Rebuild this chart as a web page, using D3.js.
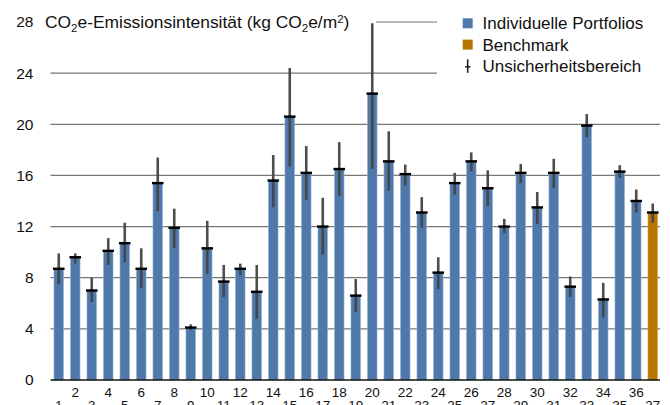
<!DOCTYPE html>
<html>
<head>
<meta charset="utf-8">
<script src="https://cdn.jsdelivr.net/npm/d3@7"></script>
<style>
  html, body { margin: 0; padding: 0; background: #fff; }
  svg { display: block; font-family: "Liberation Sans", Arial, Helvetica, sans-serif; }
</style>
</head>
<body>
<svg id="chart" width="670" height="405"></svg>
<script>
// ---- data ----
const categories = d3.range(1, 38).map(String);
const values = [8.7, 9.6, 7.0, 10.1, 10.7, 8.7, 15.4, 11.9, 4.1, 10.3, 7.7, 8.7, 6.9, 15.6, 20.6, 16.2, 12.0, 16.5, 6.6, 22.4, 17.1, 16.1, 13.1, 8.4, 15.4, 17.1, 15.0, 12.0, 16.2, 13.5, 16.2, 7.3, 19.9, 6.3, 16.3, 14.0, 13.1];
const lows = [7.5, 9.1, 6.1, 9.0, 9.2, 7.2, 13.2, 10.3, 3.9, 8.3, 6.5, 8.2, 4.8, 13.5, 16.7, 14.1, 9.8, 14.4, 5.3, 16.5, 14.8, 15.2, 11.9, 7.1, 14.5, 16.3, 13.6, 11.5, 15.4, 12.2, 15.0, 6.5, 19.0, 4.9, 15.8, 13.1, 12.3];
const highs = [9.9, 9.9, 8.0, 11.1, 12.3, 10.3, 17.4, 13.4, 4.35, 12.45, 9.0, 9.1, 9.0, 17.6, 24.4, 18.3, 14.25, 18.6, 7.9, 27.9, 19.45, 16.85, 14.3, 9.6, 16.2, 17.8, 16.4, 12.6, 16.9, 14.7, 17.3, 8.1, 20.8, 7.6, 16.8, 14.9, 13.8];
const benchmarkCategory = "37";
const yTicks = [0, 4, 8, 12, 16, 20, 24, 28];
const legendLabels = ["Individuelle Portfolios", "Benchmark", "Unsicherheitsbereich"];

const colors = { portfolio: "#4e79aa", benchmark: "#b57700", error: "#444444", cap: "#000000", grid: "#777777" };

const rows = categories.map((c, i) => ({ cat: c, v: values[i], lo: lows[i], hi: highs[i] }));

const svg = d3.select("#chart");
const plotLeft = 50.5, plotRight = 661, plotTop = 22, plotBottom = 380;

const x = d3.scaleBand().domain(categories).range([plotLeft, plotRight]).paddingInner(0.42).paddingOuter(0.21);
const y = d3.scaleLinear().domain([0, 28]).range([plotBottom, plotTop]);

// gridlines
const grid = svg.append("g");
grid.selectAll("line").data(yTicks.filter(t => t > 0)).join("line")
  .attr("x1", plotLeft).attr("x2", 660)
  .attr("y1", d => y(d)).attr("y2", d => y(d))
  .attr("stroke", colors.grid).attr("stroke-width", 1.2);

// y tick labels
const yAxis = d3.axisLeft(y).tickValues(yTicks).tickSize(0).tickPadding(0);
const ya = svg.append("g").attr("transform", "translate(33.5,0)").call(yAxis);
ya.select(".domain").remove();
ya.selectAll("text").attr("font-size", 15.5).attr("fill", "#111").attr("font-family", "Liberation Sans, Arial, sans-serif");

// title with white backing
const titleG = svg.append("g");
const titleBg = titleG.append("rect").attr("fill", "#fff");
const title = titleG.append("text").attr("x", 45).attr("y", y(28)).attr("dy", "0.36em")
  .attr("font-size", 17.4).attr("fill", "#111");
title.append("tspan").text("CO");
title.append("tspan").text("2").attr("font-size", 11.5).attr("dy", "0.3em");
title.append("tspan").text("e-Emissionsintensität (kg CO").attr("dy", "-0.2em");
title.append("tspan").text("2").attr("font-size", 11.5).attr("dy", "0.3em");
title.append("tspan").text("e/m").attr("dy", "-0.2em");
title.append("tspan").text("2").attr("font-size", 11.5).attr("dy", "-0.45em");
title.append("tspan").text(")").attr("dy", "0.3em");
const tb = title.node().getBBox();
titleBg.attr("x", tb.x - 4).attr("y", tb.y - 2).attr("width", Math.max(376, tb.x + tb.width + 4) - tb.x + 4).attr("height", tb.height + 6);

// legend with white backing
const legend = svg.append("g");
legend.append("rect").attr("x", 437).attr("y", 8).attr("width", 233).attr("height", 72).attr("fill", "#fff");
const legY = [23.3, 44.6, 66.3];
legend.append("rect").attr("x", 462.7).attr("y", legY[0] - 5).attr("width", 10).attr("height", 10).attr("fill", colors.portfolio);
legend.append("rect").attr("x", 462.7).attr("y", legY[1] - 5).attr("width", 10).attr("height", 10).attr("fill", colors.benchmark);
legend.append("line").attr("x1", 467.7).attr("x2", 467.7).attr("y1", legY[2] - 7).attr("y2", legY[2] + 6.5).attr("stroke", "#222").attr("stroke-width", 1.6);
legend.append("line").attr("x1", 465.2).attr("x2", 470.4).attr("y1", legY[2] + 0.5).attr("y2", legY[2] + 0.5).attr("stroke", "#222").attr("stroke-width", 1.6);
legend.selectAll("text.leg").data(legendLabels).join("text").attr("class", "leg")
  .attr("x", 482.5).attr("y", (d, i) => legY[i]).attr("dy", "0.36em")
  .attr("font-size", 17).attr("fill", "#111").text(d => d);

// bars
svg.append("g").selectAll("rect").data(rows).join("rect")
  .attr("x", d => x(d.cat)).attr("width", x.bandwidth())
  .attr("y", d => y(d.v)).attr("height", d => y(0) - y(d.v))
  .attr("fill", d => d.cat === benchmarkCategory ? colors.benchmark : colors.portfolio)
  .attr("stroke", d => d.cat === benchmarkCategory ? "#d9a64d" : "#9ab4d3").attr("stroke-width", 0.6);

// baseline
svg.append("line").attr("x1", plotLeft).attr("x2", 660).attr("y1", y(0)).attr("y2", y(0))
  .attr("stroke", "#111").attr("stroke-width", 1.5);

// error bars
const eb = svg.append("g");
eb.selectAll("line.err").data(rows).join("line").attr("class", "err")
  .attr("x1", d => x(d.cat) + x.bandwidth() / 2).attr("x2", d => x(d.cat) + x.bandwidth() / 2)
  .attr("y1", d => y(d.lo)).attr("y2", d => y(d.hi))
  .attr("stroke", colors.error).attr("stroke-width", 2.6).attr("stroke-opacity", 0.95);
eb.selectAll("line.cap").data(rows).join("line").attr("class", "cap")
  .attr("x1", d => x(d.cat) - 1).attr("x2", d => x(d.cat) + x.bandwidth() + 1)
  .attr("y1", d => y(d.v)).attr("y2", d => y(d.v))
  .attr("stroke", colors.cap).attr("stroke-width", 2.4);

// x labels (staggered)
svg.append("g").selectAll("text").data(categories).join("text")
  .attr("x", d => x(d) + x.bandwidth() / 2)
  .attr("y", (d, i) => i % 2 === 0 ? 409.5 : 396.5)
  .attr("text-anchor", "middle").attr("font-size", 13.5).attr("fill", "#111")
  .text(d => d);
</script>
</body>
</html>
